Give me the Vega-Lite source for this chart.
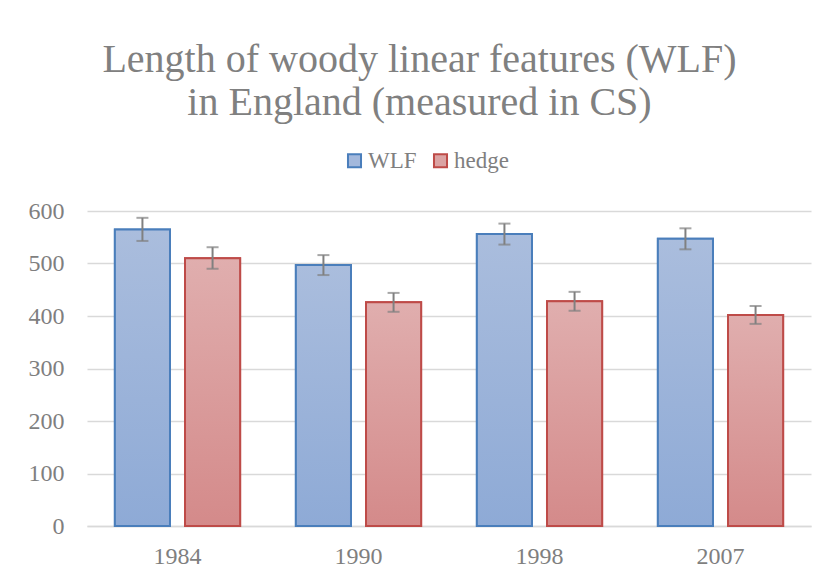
{
  "$schema": "https://vega.github.io/schema/vega-lite/v6.json",
  "width": 724,
  "height": 315,
  "padding": {"left": 28, "top": 40, "right": 5, "bottom": 2},
  "background": "white",
  "title": {
    "text": ["Length of woody linear features (WLF)", "in England (measured in CS)"],
    "font": "Liberation Serif",
    "fontSize": 40,
    "fontWeight": "normal",
    "color": "#808080",
    "lineHeight": 43,
    "anchor": "middle",
    "frame": "bounds",
    "offset": 26
  },
  "data": {
    "values": [
      {"year": "1984", "series": "WLF", "value": 565, "lo": 543, "hi": 587},
      {"year": "1984", "series": "hedge", "value": 510, "lo": 490, "hi": 531},
      {"year": "1990", "series": "WLF", "value": 497, "lo": 478, "hi": 516},
      {"year": "1990", "series": "hedge", "value": 426, "lo": 408, "hi": 444},
      {"year": "1998", "series": "WLF", "value": 556, "lo": 536, "hi": 576},
      {"year": "1998", "series": "hedge", "value": 428, "lo": 410, "hi": 446},
      {"year": "2007", "series": "WLF", "value": 547, "lo": 527, "hi": 567},
      {"year": "2007", "series": "hedge", "value": 402, "lo": 385, "hi": 419}
    ]
  },
  "encoding": {
    "x": {
      "field": "year",
      "type": "nominal",
      "scale": {"paddingInner": 0.308, "paddingOuter": 0.154},
      "axis": {"title": null}
    },
    "xOffset": {
      "field": "series",
      "type": "nominal",
      "scale": {"domain": ["WLF", "hedge"], "paddingInner": 0.214, "paddingOuter": 0}
    }
  },
  "layer": [
    {
      "mark": {"type": "bar", "strokeWidth": 2},
      "encoding": {
        "y": {
          "field": "value",
          "type": "quantitative",
          "scale": {"domain": [0, 600], "nice": false},
          "axis": {"title": null}
        },
        "fill": {
          "field": "series",
          "type": "nominal",
          "scale": {"domain": ["WLF", "hedge"], "range": ["#a3b8dc", "#dba3a3"]},
          "legend": {"title": null}
        },
        "stroke": {
          "field": "series",
          "type": "nominal",
          "scale": {"domain": ["WLF", "hedge"], "range": ["#4a7ebb", "#be4b48"]},
          "legend": {"title": null}
        }
      }
    },
    {
      "transform": [{"filter": "datum.series === 'WLF'"}],
      "mark": {
        "type": "bar",
        "fill": {"gradient": "linear", "x1": 0, "y1": 0, "x2": 0, "y2": 1,
          "stops": [{"offset": 0, "color": "#aabddd"}, {"offset": 1, "color": "#8eaad6"}]},
        "stroke": "#4a7ebb",
        "strokeWidth": 2
      },
      "encoding": {"y": {"field": "value", "type": "quantitative", "axis": {"title": null}}}
    },
    {
      "transform": [{"filter": "datum.series === 'hedge'"}],
      "mark": {
        "type": "bar",
        "fill": {"gradient": "linear", "x1": 0, "y1": 0, "x2": 0, "y2": 1,
          "stops": [{"offset": 0, "color": "#e0aeae"}, {"offset": 1, "color": "#d48a8a"}]},
        "stroke": "#be4b48",
        "strokeWidth": 2
      },
      "encoding": {"y": {"field": "value", "type": "quantitative", "axis": {"title": null}}}
    },
    {
      "mark": {"type": "rule", "color": "#808080", "strokeWidth": 2},
      "encoding": {
        "y": {"field": "lo", "type": "quantitative", "axis": {"title": null}},
        "y2": {"field": "hi"}
      }
    },
    {
      "mark": {"type": "tick", "color": "#808080", "thickness": 2, "size": 12},
      "encoding": {"y": {"field": "lo", "type": "quantitative", "axis": {"title": null}}}
    },
    {
      "mark": {"type": "tick", "color": "#808080", "thickness": 2, "size": 12},
      "encoding": {"y": {"field": "hi", "type": "quantitative", "axis": {"title": null}}}
    }
  ],
  "config": {
    "view": {"stroke": null},
    "axisX": {
      "labelAngle": 0,
      "ticks": false,
      "grid": false,
      "domainColor": "#d9d9d9",
      "domainWidth": 1.5,
      "labelPadding": 18,
      "labelFont": "Liberation Serif",
      "labelFontSize": 24,
      "labelColor": "#7f7f7f"
    },
    "axisY": {
      "values": [0, 100, 200, 300, 400, 500, 600],
      "ticks": false,
      "domain": false,
      "grid": true,
      "gridColor": "#d9d9d9",
      "gridWidth": 1.5,
      "labelPadding": 23,
      "labelFont": "Liberation Serif",
      "labelFontSize": 24,
      "labelColor": "#7f7f7f"
    },
    "legend": {
      "orient": "none",
      "legendX": 256,
      "legendY": -62,
      "direction": "horizontal",
      "symbolType": "square",
      "symbolSize": 170,
      "symbolStrokeWidth": 2,
      "labelFont": "Liberation Serif",
      "labelFontSize": 23,
      "labelColor": "#7f7f7f",
      "labelOffset": 2,
      "columnPadding": 12
    }
  }
}
